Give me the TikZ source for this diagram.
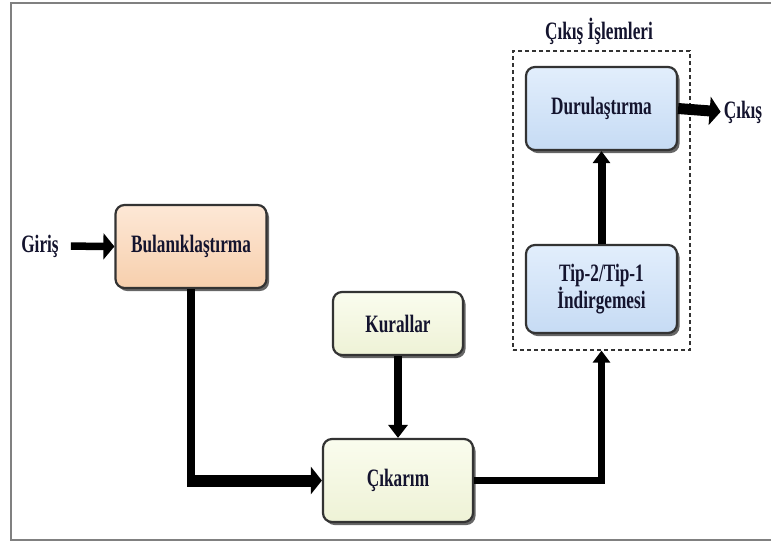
\documentclass[tikz,border=0pt]{standalone}
\usepackage{fontspec}
\setmainfont{Liberation Serif}[FakeStretch=0.69]
\usetikzlibrary{arrows.meta,shadows}
\definecolor{txt}{rgb}{0.08,0.08,0.18}
\definecolor{peachT}{HTML}{FDE8D6}
\definecolor{peachB}{HTML}{F7CFAD}
\definecolor{creamT}{HTML}{FAFCEE}
\definecolor{creamB}{HTML}{EEF2D6}
\definecolor{blueT}{HTML}{E2EEFC}
\definecolor{blueB}{HTML}{C6DBF4}
\begin{document}
\begin{tikzpicture}[x=1pt,y=-1pt,
  lbl/.style={font=\fontsize{25}{25}\selectfont\bfseries, text=txt, align=center},
  box/.style={lbl, draw=black!80, line width=2.2pt, rounded corners=9pt, inner sep=0pt,
     drop shadow={shadow xshift=2.5pt, shadow yshift=-3pt, opacity=0.6, fill=black}},
  peach/.style={box, top color=peachT, bottom color=peachB},
  cream/.style={box, top color=creamT, bottom color=creamB},
  blue/.style={box, top color=blueT, bottom color=blueB},
  conn/.style={line width=8pt, -{Triangle[length=12pt,width=18pt]}},
  fatconn/.style={line width=11pt, -{Triangle[length=11pt,width=28pt]}},
]
\useasboundingbox (0,0) rectangle (771,542);
\fill[white] (0,0) rectangle (771,542);
% frame
\draw[black!50, line width=2.5pt] (771,3) -- (11,3) -- (11,540) -- (771,540);

% dashed group
\node[draw=black!80, dashed, dash pattern=on 4pt off 3pt, line width=1.2pt,
      minimum width=177pt, minimum height=299pt] (grp) at (601.5,200.5) {};
\node[lbl] (grplbl) at (599,31) {Çıkış İşlemleri};

% boxes
\node[peach, minimum width=151pt, minimum height=83pt] (bul) at (191,246.5) {Bulanıklaştırma};
\node[cream, minimum width=130pt, minimum height=63pt] (kur) at (398,323.5) {Kurallar};
\node[cream, minimum width=150pt, minimum height=83pt] (cik) at (398,480.5) {Çıkarım};
\node[blue, minimum width=151pt, minimum height=83pt] (dur) at (601.5,108.5) {Durulaştırma};
\node[blue, minimum width=151pt, minimum height=88pt] (tip) at (601.5,289) {Tip-2/Tip-1\\İndirgemesi};

% texts
\node[lbl, inner sep=0pt] (giris) at (40,246) {Giriş};
\node[lbl, inner sep=0pt] (cikis) at (743,112) {Çıkış};

% connectors
\draw[line width=7.5pt, -{Triangle[length=11pt,width=26pt]}, shorten <=12pt] (giris.east) -- (bul.west);
\coordinate (corner) at (bul.south |- cik.west);
\draw[line width=8pt] (bul.south) -- ([yshift=6pt]corner);
\draw[line width=12pt, -{Triangle[length=11pt,width=27pt]}] ([xshift=-4pt]corner) -- (cik.west);
\draw[conn, -{Triangle[length=13pt,width=19pt]}] (kur.south) -- (cik.north);
\draw[line width=7.5pt, -{Triangle[length=12pt,width=17pt]}, line join=miter] (cik.east) -| (grp.south);
\draw[conn, -{Triangle[length=12pt,width=17pt]}] (tip.north) -- (dur.south);
\draw[fatconn, shorten >=3pt] (dur.east) -- (cikis.west);
\end{tikzpicture}
\end{document}
